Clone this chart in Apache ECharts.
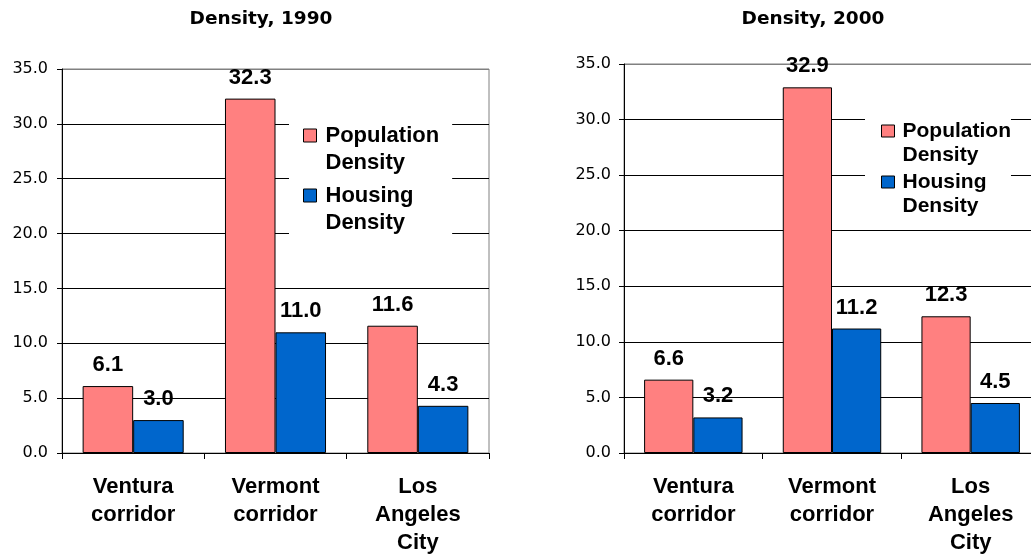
<!DOCTYPE html>
<html><head><meta charset="utf-8">
<script src="https://cdn.jsdelivr.net/npm/echarts@6/dist/echarts.min.js"></script>
<style>html,body{margin:0;padding:0;background:#fff}#c{width:1031px;height:556px}</style>
</head><body><div id="c"></div>
<script>
const categories = ['Ventura\ncorridor', 'Vermont\ncorridor', 'Los\nAngeles\nCity'];
const seriesNames = ['Population Density', 'Housing Density'];
const titles = ['Density, 1990', 'Density, 2000'];
const pop1990 = [6.1, 32.3, 11.6];
const housing1990 = [3.0, 11.0, 4.3];
const pop2000 = [6.6, 32.9, 12.3];
const housing2000 = [3.2, 11.2, 4.5];
const yMin = 0, yMax = 35, yStep = 5;

const colors = ['#FF8080', '#0066CC'];
const boldFont = 'Liberation Sans';

const grids = [
  { left: 62, top: 69, width: 427, height: 384 },
  { left: 624, top: 64, width: 416, height: 389 }
];

function yAxisCfg(i, margin) {
  return {
    type: 'value', gridIndex: i, min: yMin, max: yMax, interval: yStep,
    axisLine: { show: true, lineStyle: { color: '#000', width: 1 } },
    axisTick: { show: true, length: 5, lineStyle: { color: '#000' } },
    axisLabel: { margin: margin, color: '#000', fontFamily: 'DejaVu Sans', fontSize: 16,
      formatter: v => v.toFixed(1) },
    splitLine: { show: true, lineStyle: { color: ['#000','#000','#000','#000','#000','#000','#000','#808080'], width: 1 } }
  };
}
function xAxisCfg(i) {
  return {
    type: 'category', gridIndex: i, data: categories, boundaryGap: true,
    axisLine: { show: true, lineStyle: { color: '#000', width: 1 } },
    axisTick: { show: true, length: 6, alignWithLabel: false, lineStyle: { color: '#000' } },
    axisLabel: { interval: 0, margin: 20, color: '#000', fontFamily: boldFont, fontWeight: 'bold',
      fontSize: 22, lineHeight: 28 },
    splitLine: { show: false }
  };
}
function barSeries(name, data, idx, color) {
  return {
    type: 'bar', name: name, data: data, xAxisIndex: idx, yAxisIndex: idx,
    barGap: '0%', barCategoryGap: '29%',
    itemStyle: { color: color, borderColor: '#000', borderWidth: 1 },
    label: { show: true, position: 'top', distance: 10, color: '#000', fontFamily: boldFont,
      fontWeight: 'bold', fontSize: 22, formatter: p => p.value.toFixed(1) },
    emphasis: { disabled: true }
  };
}

const chart = echarts.init(document.getElementById('c'), null, { renderer: 'canvas' });
chart.setOption({
  animation: false,
  backgroundColor: '#fff',
  title: [
    { text: titles[0], left: 261, top: 9, textAlign: 'center', padding: 0,
      textStyle: { fontFamily: 'DejaVu Sans', fontWeight: 'bold', fontSize: 18.5, lineHeight: 20, color: '#000' } },
    { text: titles[1], left: 813, top: 9, textAlign: 'center', padding: 0,
      textStyle: { fontFamily: 'DejaVu Sans', fontWeight: 'bold', fontSize: 18.5, lineHeight: 20, color: '#000' } }
  ],
  grid: grids.map(g => Object.assign({ show: true, borderColor: '#808080', borderWidth: 1,
    backgroundColor: 'transparent', containLabel: false, outerBoundsMode: 'none' }, g)),
  xAxis: [xAxisCfg(0), xAxisCfg(1)],
  yAxis: [yAxisCfg(0, 14), yAxisCfg(1, 13)],
  legend: [
    { left: 289, top: 90, orient: 'vertical', itemWidth: 13, itemHeight: 13, itemGap: -21,
      padding: [5, 13, 5, 14], backgroundColor: '#fff', selectedMode: false, icon: 'rect',
      itemStyle: { borderColor: '#000', borderWidth: 1 },
      textStyle: { fontFamily: boldFont, fontWeight: 'bold', fontSize: 22, lineHeight: 27,
        color: '#000', padding: [0, 0, 0, 4] },
      formatter: n => '\n' + n.replace(' ', '\n'),
      data: seriesNames },
    { left: 865, top: 90, orient: 'vertical', itemWidth: 13, itemHeight: 12, itemGap: -21,
      padding: [5, 0, 5, 16], backgroundColor: '#fff', selectedMode: false, icon: 'rect',
      itemStyle: { borderColor: '#000', borderWidth: 1 },
      textStyle: { fontFamily: boldFont, fontWeight: 'bold', fontSize: 21, lineHeight: 24,
        color: '#000', padding: [0, 0, 0, 3] },
      formatter: n => '\n' + n.replace(' ', '\n'),
      data: seriesNames }
  ],
  series: [
    barSeries(seriesNames[0], pop1990, 0, colors[0]),
    barSeries(seriesNames[1], housing1990, 0, colors[1]),
    barSeries(seriesNames[0], pop2000, 1, colors[0]),
    barSeries(seriesNames[1], housing2000, 1, colors[1])
  ]
});
</script></body></html>
